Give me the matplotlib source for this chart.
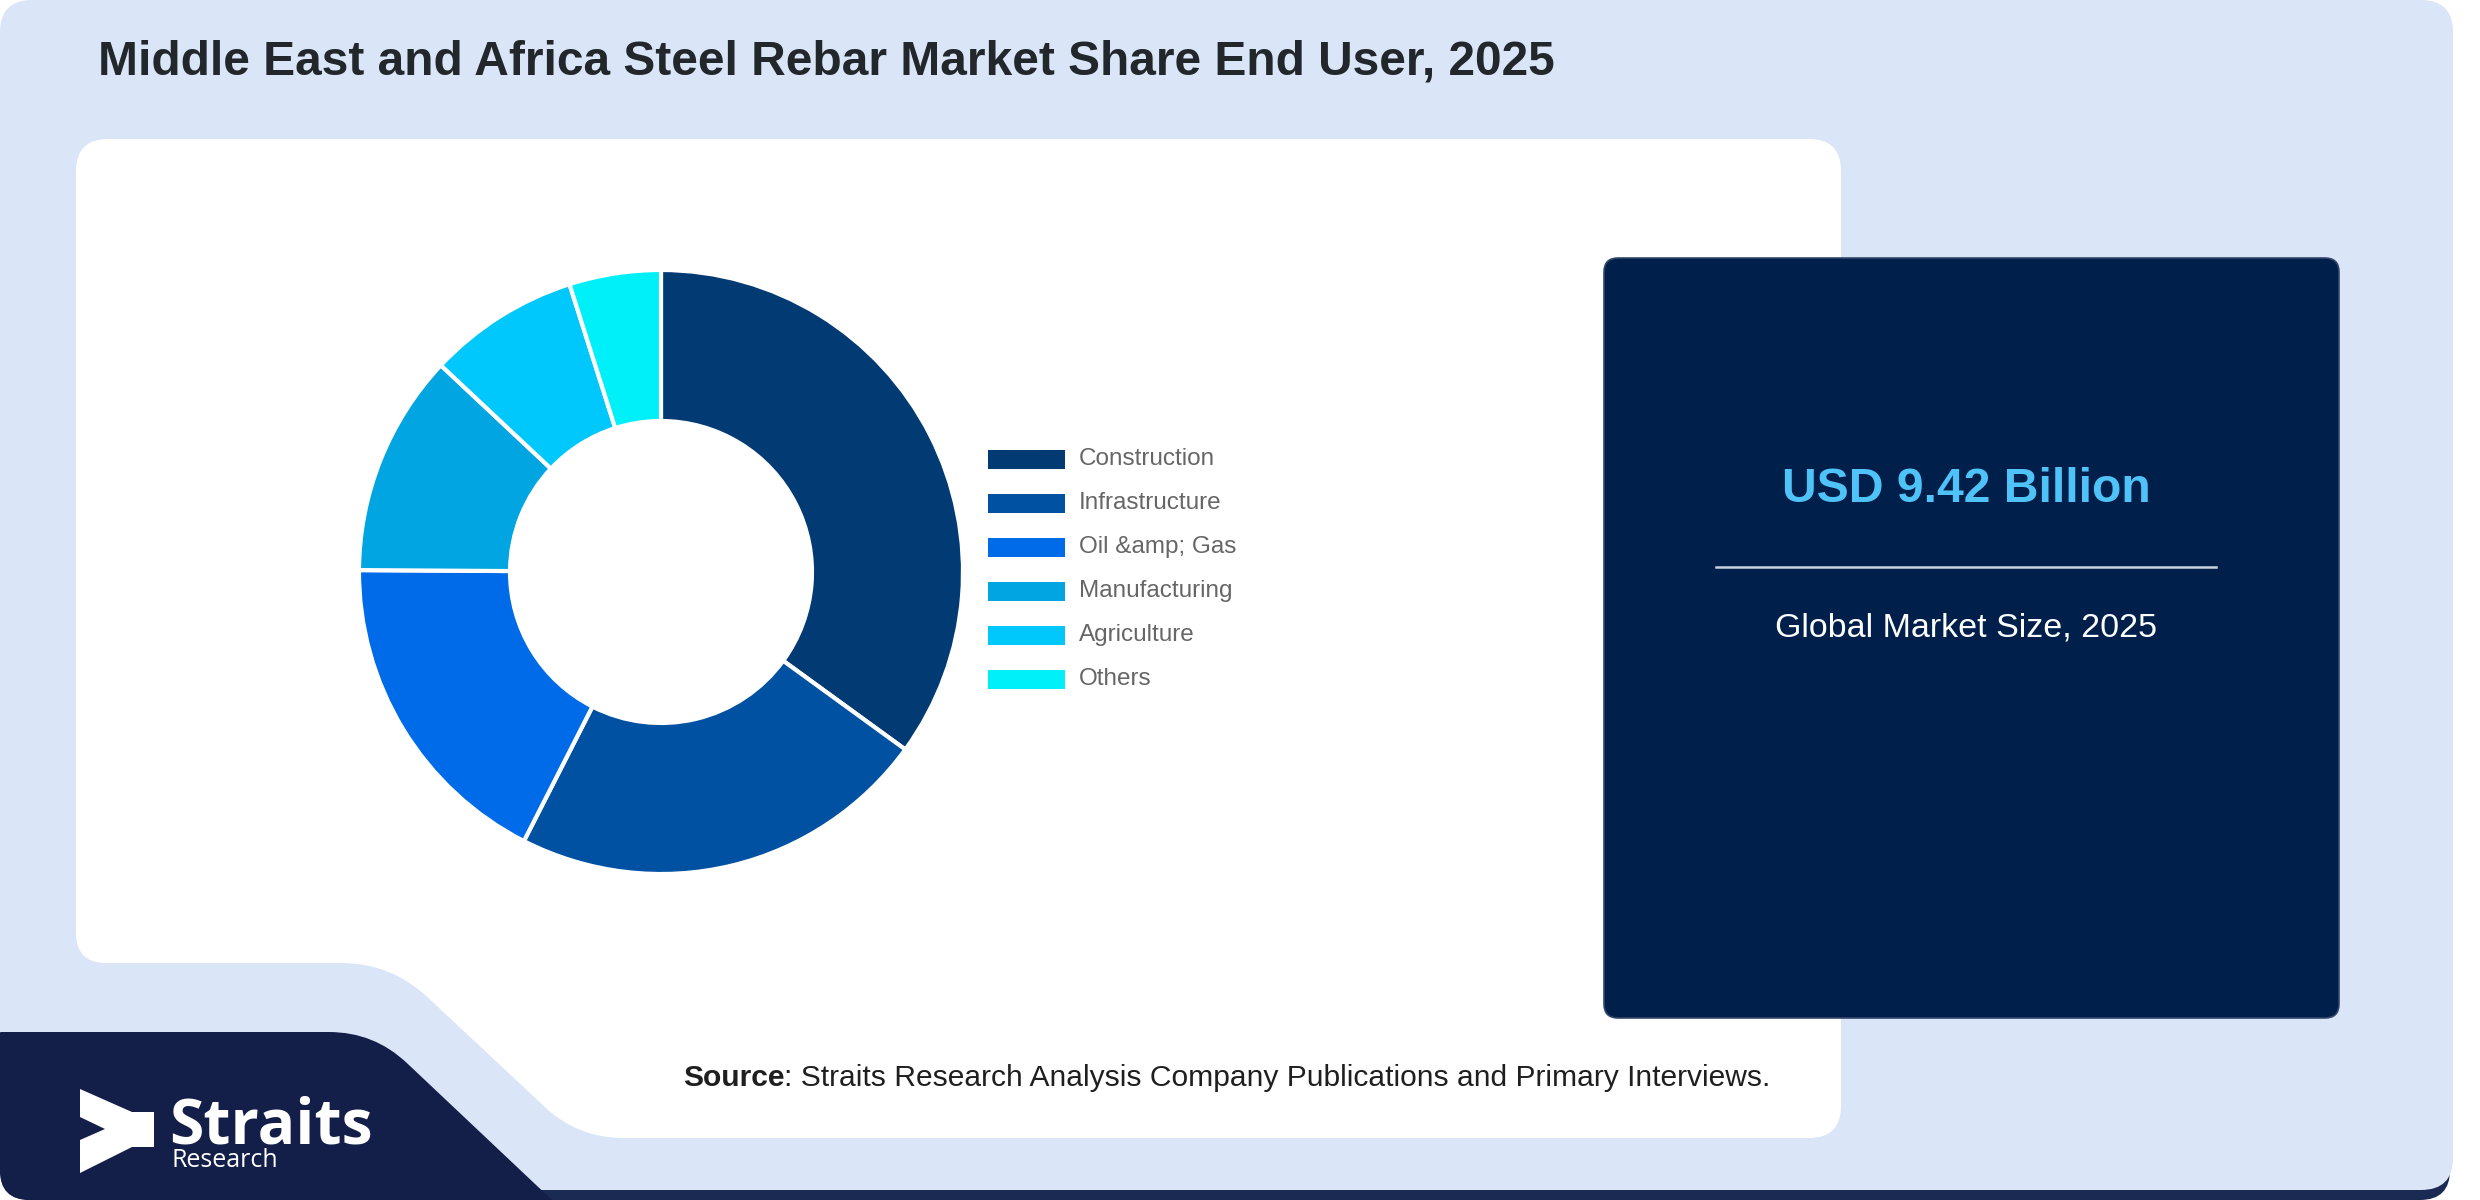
#Import the libraries we need
import numpy as np
import matplotlib
matplotlib.use("Agg")
from matplotlib import pyplot as plt
from matplotlib.path import Path
from matplotlib.patches import PathPatch, Rectangle

#chart data
categories = ["Construction", "Infrastructure", "Oil &amp; Gas", "Manufacturing", "Agriculture", "Others"]
shares = [35.0, 22.5, 17.6, 11.9, 8.1, 4.9]
colors = ["#023a74", "#0051a2", "#006be8", "#00a5e1", "#00c8fc", "#00f0fa"]

title = "Middle East and Africa Steel Rebar Market Share End User, 2025"
market_size = "USD 9.42 Billion"
market_label = "Global Market Size, 2025"
source_bold = "Source"
source_rest = ": Straits Research Analysis Company Publications and Primary Interviews."

W, H = 2480, 1200
FONT = ["Liberation Sans", "DejaVu Sans"]


#polygon with rounded corners (quadratic curve at each corner)
def rounded_path(points, radii):
  verts, codes = [], []
  n = len(points)
  for i in range(n):
    p0 = np.array(points[i - 1], float)
    p1 = np.array(points[i], float)
    p2 = np.array(points[(i + 1) % n], float)
    d1 = (p0 - p1) / np.linalg.norm(p0 - p1)
    d2 = (p2 - p1) / np.linalg.norm(p2 - p1)
    r = radii[i]
    a = p1 + d1 * r
    b = p1 + d2 * r
    verts.append(a)
    codes.append(Path.MOVETO if i == 0 else Path.LINETO)
    verts += [p1, b]
    codes += [Path.CURVE3, Path.CURVE3]
  verts.append(verts[0])
  codes.append(Path.CLOSEPOLY)
  return Path(verts, codes)


def box(x0, y0, x1, y1):
  return [(x0, y0), (x1, y0), (x1, y1), (x0, y1)]


fig = plt.figure(figsize=(W / 100, H / 100), dpi=100)
fig.patch.set_facecolor("white")

#background axes in pixel coordinates
bg = fig.add_axes([0, 0, 1, 1])
bg.set_xlim(0, W)
bg.set_ylim(H, 0)
bg.axis("off")

#dark shadow strip under the card
bg.add_patch(PathPatch(rounded_path(box(0, 1000, 2450, H), [1, 1, 30, 30]),
                       facecolor="#1b2a52", edgecolor="none", zorder=0.5))
#light blue card
bg.add_patch(PathPatch(rounded_path(box(0, 0, 2453, 1190), [32, 32, 32, 32]),
                       facecolor="#dae6f8", edgecolor="none", zorder=1))

#white panel with notch at bottom left
white_pts = [(76, 139), (1841, 139), (1841, 1138), (578, 1138), (391, 963), (76, 963)]
bg.add_patch(PathPatch(rounded_path(white_pts, [32, 32, 32, 45, 50, 30]),
                       facecolor="white", edgecolor="none", zorder=2))

#navy logo band
navy_pts = [(0, 1032), (374, 1032), (552, H), (0, H)]
bg.add_patch(PathPatch(rounded_path(navy_pts, [1, 45, 1, 30]),
                       facecolor="#131f48", edgecolor="none", zorder=3))

#logo mark
mark = [(80, 1089), (132, 1112), (154, 1112), (154, 1147), (132, 1147), (80, 1173),
        (80, 1140), (105, 1129), (80, 1117)]
bg.add_patch(plt.Polygon(mark, closed=True, facecolor="white", edgecolor="none", zorder=4))
bg.text(169, 1143, "Straits", fontsize=45, fontweight="bold", color="white",
        family=["Open Sans", "DejaVu Sans"], ha="left", va="baseline", zorder=5)
bg.text(171, 1167, "Research", fontsize=18, color="white",
        family=["Open Sans", "DejaVu Sans"], ha="left", va="baseline", zorder=5)

#title
bg.text(98, 62, title, fontsize=34.5, fontweight="bold", color="#22272c",
        family=FONT, ha="left", va="center", zorder=5)

#right market size box
bg.add_patch(PathPatch(rounded_path(box(1604, 258, 2339, 1018), [14, 14, 14, 14]),
                       facecolor="#001f4a", edgecolor="#34466a", linewidth=1.2, zorder=4))
bg.text(1966, 489, market_size, fontsize=34.7, fontweight="bold", color="#4fc3f7",
        family=FONT, ha="center", va="center", zorder=5)
bg.plot([1716, 2216], [567, 567], color="#c9d2de", linewidth=1.8, zorder=5)
bg.text(1966, 628, market_label, fontsize=24.5, color="white",
        family=FONT, ha="center", va="center", zorder=5)

#source line
src = bg.text(683, 1078, source_bold, fontsize=21.6, fontweight="bold", color="#1f1f1f",
              family=FONT, ha="left", va="center", zorder=5)
bg.annotate(source_rest, xy=(1, 0), xycoords=src, fontsize=21.6, color="#1f1f1f",
            family=FONT, ha="left", va="bottom", zorder=5)

#legend, drawn by hand next to the donut
leg_x, leg_y, leg_step = 988, 459, 44
for i, (lab, col) in enumerate(zip(categories, colors)):
  y = leg_y + i * leg_step
  bg.add_patch(Rectangle((leg_x, y - 9.5), 77, 19, facecolor=col, edgecolor="none", zorder=5))
  bg.text(leg_x + 91, y, lab, fontsize=17.5, color="#666666", family=FONT,
          ha="left", va="center", zorder=5)

#donut chart
cx, cy, rad = 661, 572, 302
ax = fig.add_axes([(cx - rad) / W, 1 - (cy + rad) / H, 2 * rad / W, 2 * rad / H])
ax.pie(shares, colors=colors, startangle=90, counterclock=False, radius=1,
       wedgeprops=dict(width=0.5, edgecolor="white", linewidth=3))
ax.set_xlim(-1, 1)
ax.set_ylim(-1, 1)
ax.set_aspect("equal")
ax.axis("off")

fig.savefig("out.png", dpi=100, facecolor=fig.get_facecolor())
